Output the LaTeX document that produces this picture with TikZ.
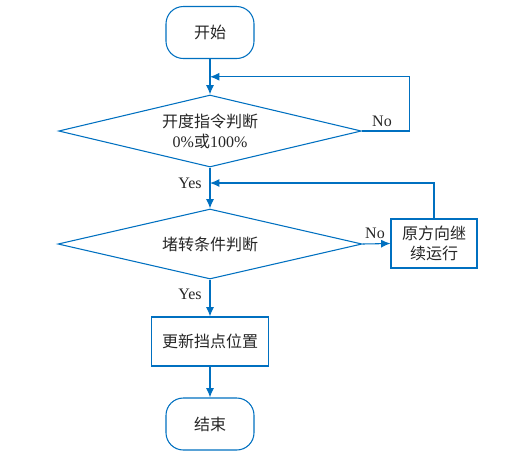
\documentclass[tikz,border=0pt]{standalone}
\usepackage{fontspec}
\setmainfont{Liberation Serif}
\newfontfamily\cjk{Noto Sans CJK SC}
\usetikzlibrary{arrows.meta,positioning,shapes.geometric,calc}
\definecolor{lineblue}{RGB}{0,112,192}

\begin{document}
\begin{tikzpicture}[x=0.75pt,y=-0.75pt,
        every node/.style={font=\fontsize{12pt}{15pt}\selectfont, text=black!85},
        terminal/.style={draw=lineblue, line width=0.8pt, rounded corners=13pt,
            minimum width=66pt, minimum height=39pt},
        process/.style={draw=lineblue, line width=0.8pt, align=center,
            minimum height=36.75pt},
        decision/.style={draw=lineblue, line width=0.8pt, diamond, aspect=4.2,
            align=center, inner sep=0pt},
        arrow/.style={draw=lineblue, line width=0.8pt, -{Latex[length=7pt,width=6pt]}}]
    \useasboundingbox (0,0) rectangle (507,462);

    % Main column
    \node[terminal] (start) at (210,32.5) {\cjk 开始};
    \node[decision, minimum width=227pt, minimum height=54pt] (angle) at (210,131)
        {{\cjk 开度指令判断}\\0\%{\cjk 或}100\%};
    \node[decision, minimum width=228pt, minimum height=52.5pt] (stall) at (210,244)
        {\cjk 堵转条件判断};
    \node[process, minimum width=87.75pt] (update) at (210,341.5) {\cjk 更新挡点位置};
    \node[terminal] (stop) at (210,424) {\cjk 结束};

    % Side box
    \node[process, minimum width=64.5pt] (keep) at (434,243.5)
        {\cjk 原方向继\\\cjk 续运行};

    % Loop return points
    \coordinate (back1) at ($(start.south)!0.5!(angle.north)$);
    \coordinate (back2) at (210,183);

    % Connectors
    \draw[arrow] (start) -- (angle);
    \draw[arrow] (angle.east) -- ++(48,0) |- (back1);
    \draw[arrow] (angle) -- (stall);
    \draw[arrow] (keep.north) |- (back2);
    \draw[arrow] (stall.east) -- (keep.west);
    \draw[arrow] (stall) -- (update);
    \draw[arrow] (update) -- (stop);

    % Labels
    \node at (382,121) {No};
    \node at (375,233) {No};
    \node at (190,183) {Yes};
    \node at (190,294) {Yes};
\end{tikzpicture}
\end{document}
